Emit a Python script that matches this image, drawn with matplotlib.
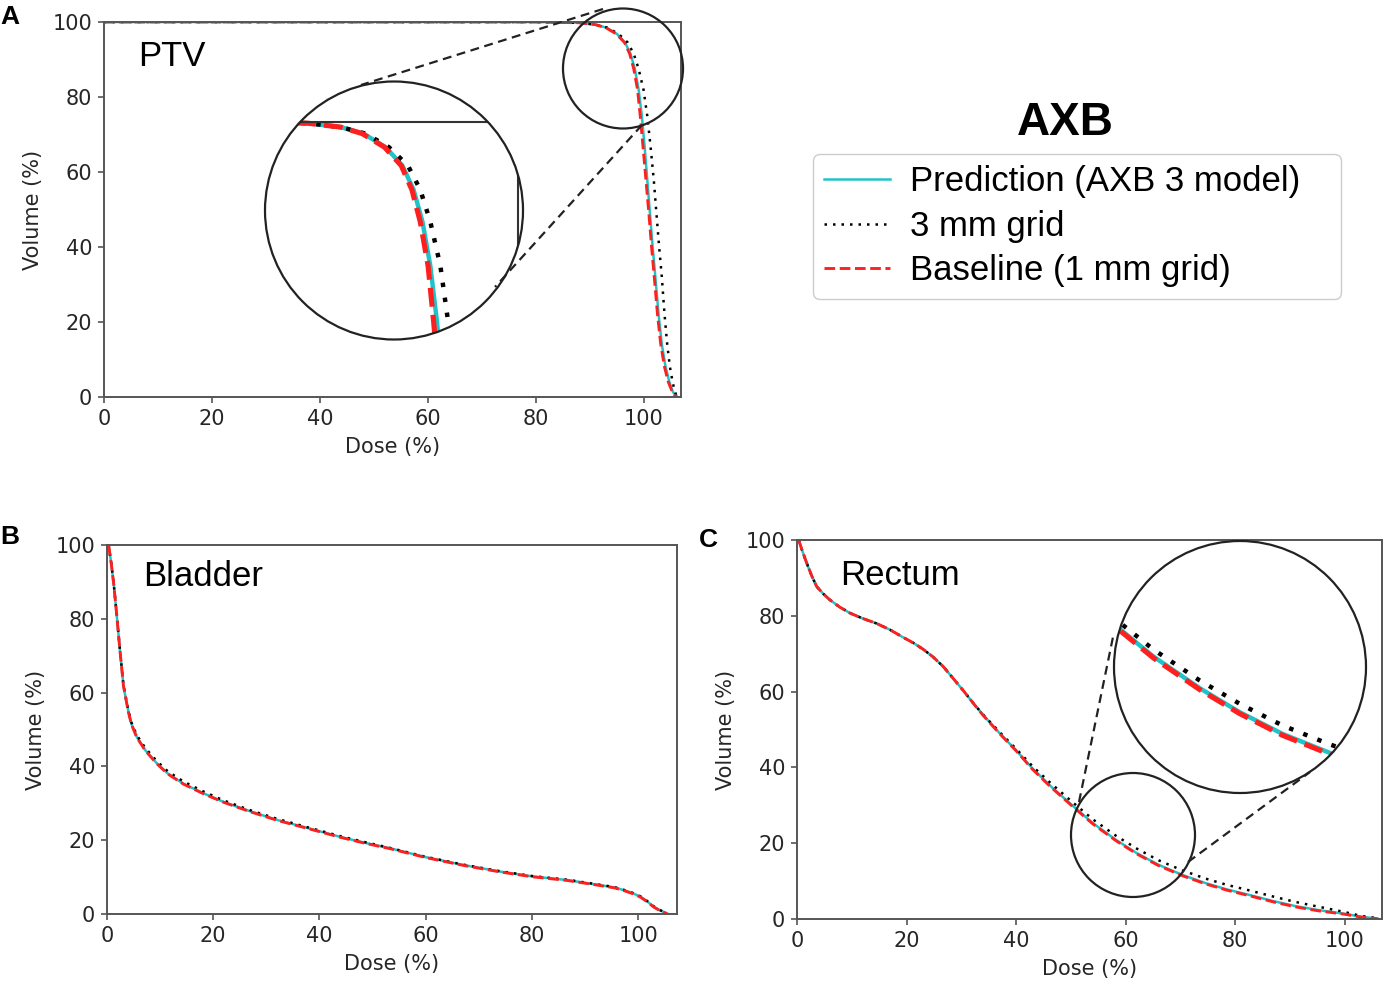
import numpy as np
import matplotlib
matplotlib.use("Agg")
import matplotlib.pyplot as plt
from matplotlib.patches import Circle

# ---- data (dose %, volume %) ----
ptv_vol = [100, 100, 99.8, 99.3, 98.5, 96.8, 94.5, 91.5, 87.5, 82, 75, 67, 58, 49,
           40, 32, 22, 14, 8, 4, 1.5, 0.4, 0]
ptv_dose_pred = [0, 80, 88, 91, 93, 95, 96.5, 97.5, 98.3, 99, 99.6, 100.1, 100.6, 101.1,
                 101.6, 102.1, 102.7, 103.3, 104, 104.7, 105.3, 105.8, 106.2]
ptv_dose_3mm = [0, 80, 88, 91, 93.2, 95.3, 97, 98.1, 99, 99.9, 100.6, 101.2, 101.8, 102.3,
                102.8, 103.3, 103.8, 104.3, 104.8, 105.3, 105.7, 106, 106.3]
ptv_dose_base = [0, 80, 88, 91, 92.9, 94.9, 96.4, 97.35, 98.1, 98.8, 99.3, 99.8, 100.35, 100.9,
                 101.4, 101.9, 102.5, 103.1, 103.8, 104.5, 105.2, 105.7, 106.1]

bladder_dose = [0.3, 0.8, 1.3, 1.8, 2.4, 3.1, 4, 4.6, 5.6, 7.2, 9.4, 11.5, 14.4, 18, 21.9,
                27, 32, 38, 43.9, 48.5, 53.3, 60, 67, 74, 80, 86.6, 92, 95.5, 97.2, 99,
                100.4, 101.7, 102.9, 104.2, 105.4]
bladder_pred = [100, 95, 89, 81.5, 72, 61.8, 55, 51.5, 48, 44.4, 40.8, 38, 35.3, 32.8, 30.4,
                27.8, 25.5, 23.2, 20.9, 19.3, 17.8, 15.4, 13.3, 11.5, 10.2,
                9.2, 8, 7.2, 6.5, 5.6, 4.7, 3.4, 2, 0.9, 0.2]
bladder_3mm = [100, 95, 89, 81.5, 72.1, 62, 55.3, 51.9, 48.5, 45, 41.4, 38.6, 35.9, 33.3,
               30.8, 28.1, 25.8, 23.4, 21.1, 19.5, 17.9, 15.5, 13.4, 11.6, 10.3,
               9.3, 8.1, 7.3, 6.6, 5.7, 4.8, 3.5, 2.1, 1, 0.2]
bladder_base = [100, 95, 89, 81.5, 72, 61.8, 54.9, 51.4, 47.9, 44.3, 40.7, 37.9, 35.2, 32.7,
                30.3, 27.7, 25.4, 23.1, 20.8, 19.2, 17.7, 15.3, 13.2, 11.4, 10.1,
                9.1, 7.9, 7.1, 6.4, 5.5, 4.6, 3.3, 1.9, 0.8, 0.1]

rectum_dose = [0.3, 1, 1.8, 2.7, 3.6, 4.8, 6, 7.8, 9.7, 12, 14.5, 17, 19.4, 21.3, 23, 24.8,
               26.7, 28.5, 30.4, 32.2, 34, 37, 40, 43, 46.2, 50, 54, 58.3, 62, 66, 70.4,
               74.5, 78.5, 82.7, 87, 91, 95, 99.8, 103, 106]
rectum_pred = [100, 97, 93.8, 90.5, 87.7, 85.8, 84.2, 82.3, 80.7, 79.3, 78, 76.3, 74.3, 72.8,
               71.2, 69.2, 66.6, 63.5, 60.2, 56.9, 53.8, 49, 44.5, 39.7, 35.2, 30.3, 25.3,
               20.8, 17.4, 14.3, 11.6, 9.5, 7.8, 6.3, 4.7, 3.4, 2.4, 1.4, 0.6, 0.1]
rectum_3mm = [100, 97, 93.8, 90.5, 87.7, 85.8, 84.2, 82.3, 80.7, 79.3, 78, 76.3, 74.3, 72.8,
              71.2, 69.2, 66.6, 63.5, 60.2, 56.9, 53.9, 49.3, 44.9, 40.3, 36, 31.2, 26.3,
              21.9, 18.6, 15.5, 12.8, 10.7, 9.0, 7.5, 5.9, 4.5, 3.3, 1.9, 0.8, 0.2]
rectum_base = [100, 97, 93.8, 90.5, 87.7, 85.8, 84.2, 82.3, 80.7, 79.3, 78, 76.3, 74.3, 72.8,
               71.2, 69.2, 66.6, 63.5, 60.2, 56.9, 53.7, 48.9, 44.4, 39.5, 35, 30.1, 25.1,
               20.6, 17.2, 14.1, 11.4, 9.3, 7.6, 6.1, 4.5, 3.2, 2.2, 1.3, 0.5, 0.05]

labels = ["Prediction (AXB 3 model)", "3 mm grid", "Baseline (1 mm grid)"]
cyan = "#22c3c8"
red = "#ff1f1f"
dotted = (0, (1, 2.4))

W, H = 1389, 988
fig = plt.figure(figsize=(W / 100, H / 100), dpi=100)


def px_axes(l, t, r, b):
    return fig.add_axes([l / W, 1 - b / H, (r - l) / W, (b - t) / H])


def style(ax, xmax):
    ax.set_xlim(0, xmax)
    ax.set_ylim(0, 100)
    ax.set_xticks([0, 20, 40, 60, 80, 100])
    ax.set_yticks([0, 20, 40, 60, 80, 100])
    for s in ax.spines.values():
        s.set_color("#555555")
        s.set_linewidth(1.4)
    ax.tick_params(labelsize=15, colors="#555555", labelcolor="#262626",
                   length=4, width=1.2, pad=4.5)
    ax.set_xlabel("Dose (%)", fontsize=15, color="#262626", labelpad=6)
    ax.set_ylabel("Volume (%)", fontsize=15, color="#262626", labelpad=7)


def draw(ax, xs, ys, lw=1.8, clip=None):
    (d1, v1), (d2, v2), (d3, v3) = zip(xs, ys)
    out = []
    out += ax.plot(d1, v1, color=cyan, lw=lw, label=labels[0])
    out += ax.plot(d2, v2, color="black", lw=lw, ls=dotted, label=labels[1])
    out += ax.plot(d3, v3, color=red, lw=lw * 1.15, ls="--", label=labels[2])
    if clip is not None:
        for ln in out:
            ln.set_clip_path(clip)
    return out


def inset(cx, cy, r, xlim, ylim):
    ax = px_axes(cx - r, cy - r, cx + r, cy + r)
    ax.set_xlim(*xlim)
    ax.set_ylim(*ylim)
    ax.axis("off")
    c = Circle((0.5, 0.5), 0.5, transform=ax.transAxes, facecolor="white",
               edgecolor="none", zorder=0)
    ax.add_patch(c)
    return ax, c


sans = ["Liberation Sans", "DejaVu Sans"]

# ---- A: PTV ----
axA = px_axes(104, 22, 681, 397)
style(axA, 106.85)
hA = draw(axA, [ptv_dose_pred, ptv_dose_3mm, ptv_dose_base], [ptv_vol, ptv_vol, ptv_vol])
axA.text(0.059, 0.883, "PTV", transform=axA.transAxes, fontsize=25,
         family=sans, va="baseline")

insA, cA = inset(394, 210.5, 129, (84.2, 107.3), (72.8, 105.0))
draw(insA, [ptv_dose_pred, ptv_dose_3mm, ptv_dose_base], [ptv_vol, ptv_vol, ptv_vol],
     lw=3.2, clip=cA)
for ln in [insA.axhline(100, color="#333333", lw=1.5),
           insA.axvline(106.85, color="#333333", lw=1.5)]:
    ln.set_clip_path(cA)

# ---- B: Bladder ----
axB = px_axes(107, 545, 677, 914)
style(axB, 107.3)
draw(axB, [bladder_dose] * 3, [bladder_pred, bladder_3mm, bladder_base])
axB.text(0.063, 0.889, "Bladder", transform=axB.transAxes, fontsize=25,
         family=sans, va="baseline")

# ---- C: Rectum ----
axC = px_axes(797, 540, 1382, 919)
style(axC, 106.8)
draw(axC, [rectum_dose] * 3, [rectum_pred, rectum_3mm, rectum_base])
axC.text(0.0735, 0.881, "Rectum", transform=axC.transAxes, fontsize=25,
         family=sans, va="baseline")

insC, cC = inset(1240, 667, 126, (50.33, 73.75), (5.9, 41.74))
draw(insC, [rectum_dose] * 3, [rectum_pred, rectum_3mm, rectum_base], lw=3.2, clip=cC)

# ---- overlay: magnifier circles and connectors (pixel coords) ----
ov = fig.add_axes([0, 0, 1, 1], zorder=10)
ov.set_xlim(0, W)
ov.set_ylim(H, 0)
ov.axis("off")
ov.patch.set_alpha(0)
for (x, y, r) in [(623, 68.5, 60), (394, 210.5, 129), (1133, 835, 62), (1240, 667, 126)]:
    ov.add_patch(Circle((x, y), r, fill=False, edgecolor="#222222", lw=1.6))
for (x0, y0, x1, y1) in [(603, 9, 361, 85), (642, 125, 495, 287),
                         (1079, 802, 1113, 637), (1188, 862, 1310, 772)]:
    ov.plot([x0, x1], [y0, y1], color="#222222", lw=1.6, ls=(0, (4, 2.5)))

# ---- legend and title ----
fig.text(1065 / W, 1 - 135 / H, "AXB", fontsize=33, fontweight="bold",
         family=sans, ha="center", va="baseline")
fig.legend(handles=hA, labels=labels, loc="upper left", mode="expand",
           bbox_to_anchor=(813 / W, 1 - 299 / H, 528 / W, 145 / H),
           prop={"family": sans, "size": 25},
           handlelength=1.9, handletextpad=0.55, labelspacing=0.33, borderpad=0.33,
           borderaxespad=0, frameon=True, edgecolor="#cccccc", framealpha=1)

for lab, x, y in [("A", 0, 5), ("B", 0, 525), ("C", 699, 528)]:
    fig.text(x / W, 1 - y / H, lab, fontsize=19, fontweight="bold", family=sans,
             ha="left", va="top")

fig.savefig("out.png", dpi=100)
